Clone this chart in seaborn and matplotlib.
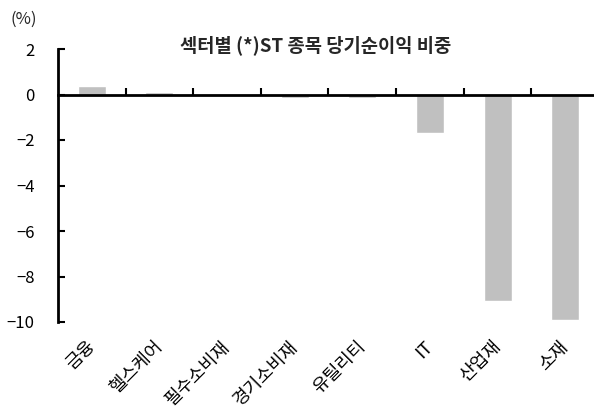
import matplotlib
matplotlib.use('Agg')
import matplotlib.pyplot as plt
import matplotlib.transforms as mtransforms
import seaborn as sns
import pandas as pd

# 섹터별 (*)ST 종목 당기순이익 비중 (%)
sectors = ['금융', '헬스케어', '필수소비재', '경기소비재', '유틸리티', 'IT', '산업재', '소재']
weights = [0.38, 0.13, 0.0, -0.16, -0.16, -1.69, -9.09, -9.93]
yticks = [2, 0, -2, -4, -6, -8, -10]

sns.set_theme(style='white')
plt.rcParams['font.family'] = ['Noto Sans CJK KR', 'DejaVu Sans']

fig = plt.figure(figsize=(5.94, 4.12), dpi=100)
ax = fig.add_axes([58 / 594, 1 - 322 / 412, (599 - 58) / 594, (322 - 49) / 412])

df = pd.DataFrame({'sector': sectors, 'weight': weights})
sns.barplot(data=df, x='sector', y='weight', color='#c0c0c0', saturation=1,
            width=0.415, ax=ax)

ax.set_xlim(-0.5, len(sectors) - 0.5)
ax.set_ylim(min(yticks), max(yticks))
ax.set_yticks(yticks)
ax.set_xlabel('')
ax.set_ylabel('')

ax.spines[['top', 'right', 'bottom']].set_visible(False)
ax.spines['left'].set_color('black')
ax.spines['left'].set_linewidth(2)
ax.tick_params(axis='y', left=True, direction='in', length=5, width=1.5,
               pad=17, labelsize=12, colors='black')
ax.tick_params(axis='x', length=0, pad=11, labelsize=13, colors='black')
shift = mtransforms.ScaledTranslation(-6 / 100, 0, fig.dpi_scale_trans)
for lab in ax.get_xticklabels():
    lab.set_rotation(45)
    lab.set_ha('right')
    lab.set_va('top')
    lab.set_rotation_mode('anchor')
    lab.set_transform(lab.get_transform() + shift)

# zero line with category boundary ticks pointing up
ax2 = ax.twiny()
ax2.set_xlim(ax.get_xlim())
ax2.spines[['top', 'right', 'left']].set_visible(False)
ax2.spines['bottom'].set_position(('data', 0))
ax2.spines['bottom'].set_linewidth(2)
ax2.spines['bottom'].set_color('black')
ax2.xaxis.set_ticks_position('bottom')
ax2.set_xticks([i + 0.5 for i in range(len(sectors) - 1)], labels=[])
ax2.tick_params(axis='x', bottom=True, top=False, direction='in', length=5,
                width=1.5, colors='black', labelbottom=False, labeltop=False)

fig.text(316 / 594, 1 - 45 / 412, '섹터별 (*)ST 종목 당기순이익 비중',
         ha='center', va='center', fontsize=13.5, fontweight='bold')
fig.text(10 / 594, 1 - 19 / 412, '(%)', ha='left', va='center', fontsize=12)

fig.savefig('out.png', dpi=100)
